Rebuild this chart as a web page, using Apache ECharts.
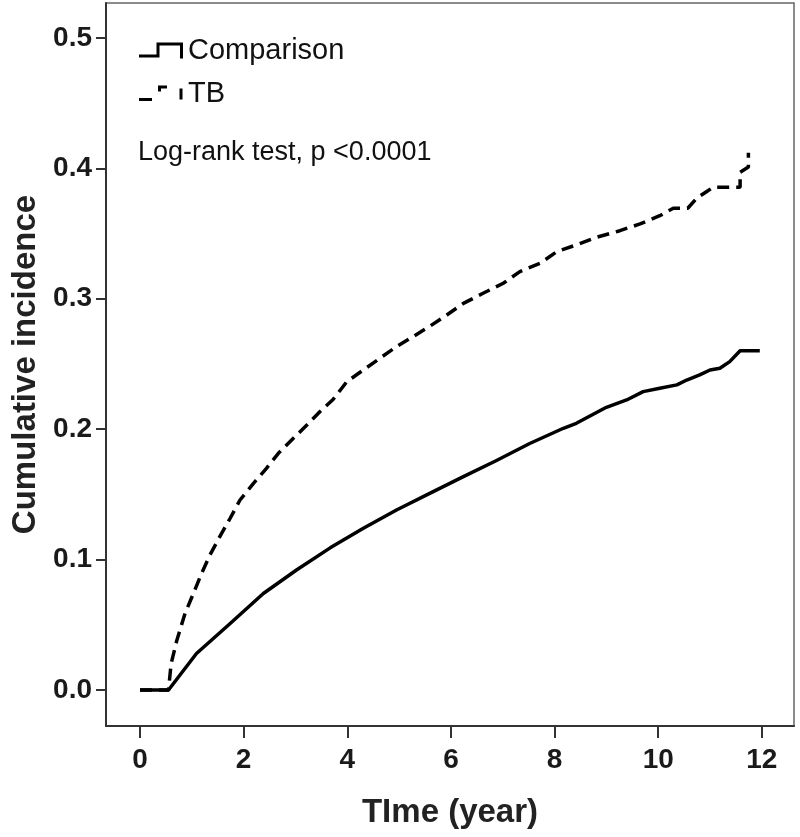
<!DOCTYPE html>
<html>
<head>
<meta charset="utf-8">
<script src="https://cdn.jsdelivr.net/npm/echarts@6/dist/echarts.min.js"></script>
<style>
html,body{margin:0;padding:0;background:#fff;}
#chart{width:800px;height:837px;}
</style>
</head>
<body>
<div id="chart"></div>
<script>
// ---- data ----
var seriesNames = ['Comparison', 'TB'];
var compTime  = [0, 0.55, 1.09, 1.74, 2.38, 3.02, 3.67, 4.31, 4.95, 5.60, 6.24, 6.88, 7.52, 8.17, 8.42, 9.00, 9.39, 9.71, 10.03, 10.36, 10.55, 10.80, 11.00, 11.19, 11.38, 11.58, 11.96];
var compValue = [0, 0, 0.028, 0.051, 0.074, 0.092, 0.109, 0.124, 0.138, 0.151, 0.1636, 0.176, 0.189, 0.2007, 0.2045, 0.2168, 0.2224, 0.2288, 0.2314, 0.234, 0.2377, 0.2416, 0.2454, 0.2467, 0.2518, 0.2602, 0.2602];
var tbTime  = [0, 0.55, 0.60, 0.71, 0.87, 1.03, 1.19, 1.35, 1.54, 1.74, 1.93, 2.19, 2.44, 2.67, 2.96, 3.22, 3.47, 3.73, 3.99, 4.31, 4.63, 4.95, 5.27, 5.60, 5.92, 6.24, 6.62, 7.01, 7.33, 7.72, 8.04, 8.42, 8.81, 9.26, 9.65, 10.03, 10.29, 10.57, 10.74, 10.93, 11.06, 11.58, 11.58, 11.74, 11.74];
var tbValue = [0, 0, 0.020, 0.038, 0.0588, 0.074, 0.0895, 0.1035, 0.1176, 0.1317, 0.1457, 0.1585, 0.170, 0.1815, 0.193, 0.2032, 0.2134, 0.2230, 0.2364, 0.2454, 0.2544, 0.2633, 0.271, 0.2791, 0.2876, 0.2965, 0.3042, 0.3119, 0.3208, 0.3272, 0.3361, 0.3413, 0.3472, 0.3522, 0.3574, 0.3637, 0.3694, 0.3694, 0.377, 0.3821, 0.3855, 0.3855, 0.397, 0.401, 0.412];
var xTicks = [0, 2, 4, 6, 8, 10, 12];
var yTicks = [0, 0.1, 0.2, 0.3, 0.4, 0.5];
var xTitle = 'TIme (year)';
var yTitle = 'Cumulative incidence';
var noteText = 'Log-rank test, p <0.0001';

function zip(a, b) { return a.map(function (v, i) { return [v, b[i]]; }); }

var FONT = '"Liberation Sans", Arial, sans-serif';
var chart = echarts.init(document.getElementById('chart'), null, {renderer: 'canvas'});

var compIcon = 'path://M0 12 L17.5 12 L17.5 0 L44 0 L44 16 L41 16 L41 3 L20.5 3 L20.5 15 L0 15 Z';
var tbIcon = 'path://M0 12.5 L13 12.5 L13 15.5 L0 15.5 Z M19 0 L28 0 L28 3 L22 3 L22 6 L19 6 Z M40.5 3 L43.5 3 L43.5 14 L40.5 14 Z M44 0 L44 0.01 L43.99 0 Z M0 16 L0.01 16 L0 15.99 Z';

chart.setOption({
  animation: false,
  backgroundColor: '#fff',
  grid: {
    left: 106, right: 6, top: 3, bottom: 111,
    show: true, borderColor: '#666', borderWidth: 1.5, backgroundColor: 'transparent'
  },
  legend: {
    orient: 'vertical',
    left: 139, top: 36,
    padding: 0,
    itemGap: 14,
    itemWidth: 44, itemHeight: 16,
    symbolKeepAspect: false,
    itemStyle: {color: '#000', borderWidth: 0},
    textStyle: {fontFamily: FONT, fontSize: 29, color: '#111'},
    data: [
      {name: seriesNames[0], icon: compIcon},
      {name: seriesNames[1], icon: tbIcon}
    ]
  },
  graphic: [{
    type: 'text', left: 138, top: 139,
    style: {text: noteText, font: '27px ' + FONT, fill: '#111'}
  }],
  xAxis: {
    type: 'value',
    min: -0.656, max: 12.62,
    name: xTitle, nameLocation: 'middle', nameGap: 70,
    nameTextStyle: {fontFamily: FONT, fontSize: 33, fontWeight: 'bold', color: '#222'},
    axisLine: {show: true, onZero: false, lineStyle: {color: '#333', width: 2}},
    axisTick: {show: true, length: 12, customValues: xTicks, lineStyle: {color: '#333', width: 2}},
    axisLabel: {customValues: xTicks, margin: 20, fontFamily: FONT, fontSize: 28, fontWeight: 'bold', color: '#1a1a1a'},
    splitLine: {show: false}
  },
  yAxis: {
    type: 'value',
    min: -0.0276, max: 0.5268,
    name: yTitle, nameLocation: 'middle', nameGap: 64,
    nameTextStyle: {fontFamily: FONT, fontSize: 33, fontWeight: 'bold', color: '#222'},
    axisLine: {show: true, onZero: false, lineStyle: {color: '#333', width: 2}},
    axisTick: {show: true, length: 10, customValues: yTicks, lineStyle: {color: '#333', width: 2}},
    axisLabel: {customValues: yTicks, margin: 14, fontFamily: FONT, fontSize: 28, fontWeight: 'bold', color: '#1a1a1a',
      formatter: function (v) { return v.toFixed(1); }},
    splitLine: {show: false}
  },
  series: [
    {
      name: seriesNames[0], type: 'line', showSymbol: false, symbol: 'none',
      data: zip(compTime, compValue),
      lineStyle: {color: '#000', width: 3.5, join: 'round'},
      itemStyle: {color: '#000'},
      z: 3
    },
    {
      name: seriesNames[1], type: 'line', showSymbol: false, symbol: 'none',
      data: zip(tbTime, tbValue),
      lineStyle: {color: '#000', width: 3.5, type: [12, 7]},
      itemStyle: {color: '#000'},
      z: 4
    }
  ]
});
</script>
</body>
</html>
